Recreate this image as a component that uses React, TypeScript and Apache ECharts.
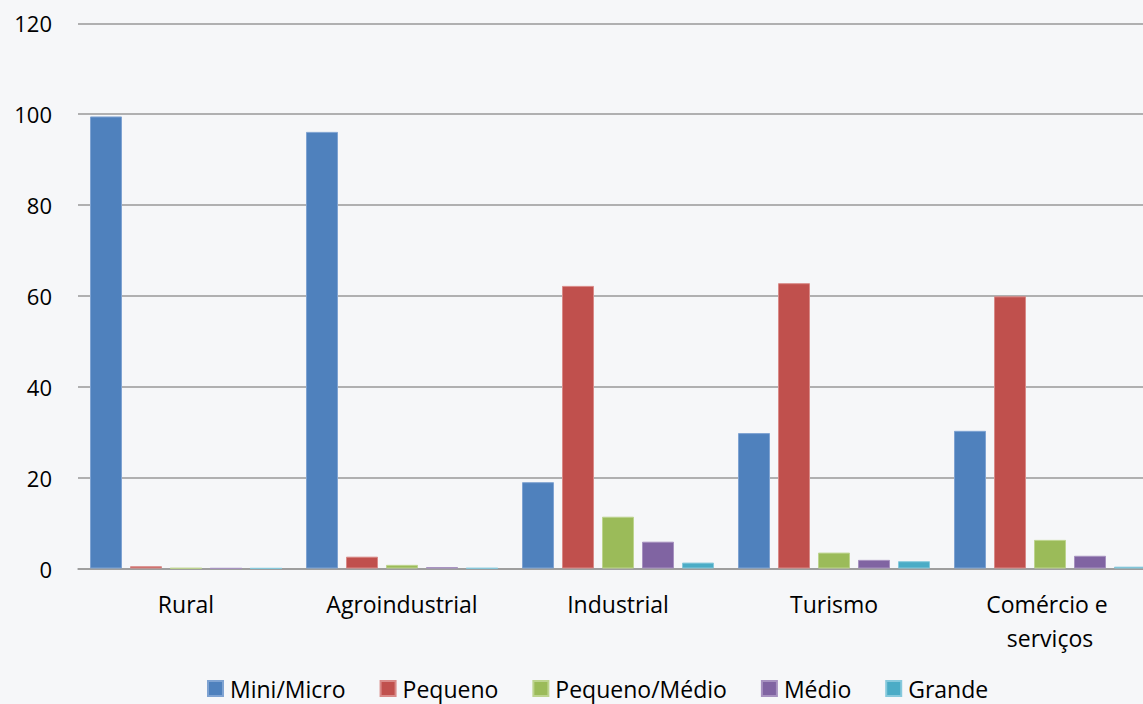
import React, { useEffect, useRef } from "react";
import * as echarts from "echarts";

const categories = ["Rural", "Agroindustrial", "Industrial", "Turismo", "Comércio e serviços"];
const seriesNames = ["Mini/Micro", "Pequeno", "Pequeno/Médio", "Médio", "Grande"];
const miniMicro = [99.5, 96.1, 19.0, 29.8, 30.3];
const pequeno = [0.5, 2.6, 62.2, 62.8, 59.9];
const pequenoMedio = [0.1, 0.8, 11.4, 3.5, 6.3];
const medio = [0.05, 0.3, 5.9, 1.9, 2.8];
const grande = [0.05, 0.1, 1.3, 1.6, 0.4];
const colors = ["#4F81BD", "#C0504D", "#9BBB59", "#8064A2", "#4BACC6"];
const borders = ["#7FA3D2", "#D98A88", "#BDD48E", "#A792C0", "#86C9DC"];
const yTicks = { min: 0, max: 120, interval: 20 };

export default function App() {
  const ref = useRef<HTMLDivElement>(null);
  useEffect(() => {
    if (!ref.current) return;
    const chart = echarts.init(ref.current, null, { renderer: "svg" });
    const values = [miniMicro, pequeno, pequenoMedio, medio, grande];
    const font = "'Open Sans', 'Noto Sans', sans-serif";
    chart.setOption({
      animation: false,
      backgroundColor: "#f6f7f9",
      textStyle: { fontFamily: font },
      grid: { left: 78, top: 23.3, width: 1080, height: 545.2, containLabel: false },
      legend: {
        left: 207,
        top: 677,
        padding: 0,
        itemWidth: 15,
        itemHeight: 15,
        itemGap: 34,
        icon: "rect",
        textStyle: { fontSize: 23, color: "#000", fontFamily: font, padding: [0, 0, 0, 2] },
        data: seriesNames,
      },
      xAxis: {
        type: "category",
        data: categories,
        axisTick: { show: false },
        axisLine: { show: true, lineStyle: { color: "#999", width: 1.5 } },
        axisLabel: {
          interval: 0,
          margin: 18,
          fontSize: 23,
          lineHeight: 34,
          color: "#000",
          fontFamily: font,
          width: 170,
          overflow: "break",
        },
      },
      yAxis: {
        type: "value",
        min: yTicks.min,
        max: yTicks.max,
        interval: yTicks.interval,
        axisLine: { show: false },
        axisTick: { show: false },
        axisLabel: { margin: 26, fontSize: 22, color: "#000", fontFamily: font },
        splitLine: { lineStyle: { color: "#999", width: 1.5 } },
      },
      series: seriesNames.map((name, i) => ({
        name,
        type: "bar",
        data: values[i],
        barWidth: 32,
        barGap: "25%",
        itemStyle: { color: colors[i], borderColor: borders[i], borderWidth: 1 },
      })),
    });
    return () => chart.dispose();
  }, []);
  return (
    <div style={{ position: "absolute", left: 0, top: 0, width: 1143, height: 704, overflow: "hidden" }}>
      <div ref={ref} style={{ width: 1160, height: 704 }} />
    </div>
  );
}
